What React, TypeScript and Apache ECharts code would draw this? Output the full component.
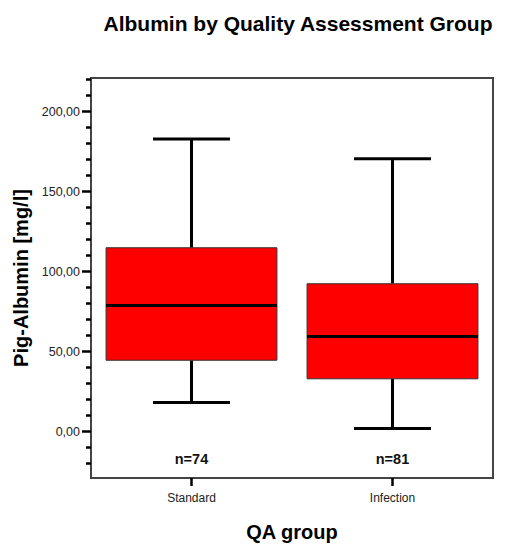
import React, { useEffect, useRef } from "react";
import * as echarts from "echarts";

const categories = ["Standard", "Infection"];
// [low whisker, Q1, median, Q3, high whisker]
const boxStats = [
  [18.2, 44.6, 78.8, 114.9, 182.9],
  [2.0, 33.0, 59.5, 92.4, 170.5],
];
const counts = [74, 81];
const majorTicks = [0, 50, 100, 150, 200];
const minorTicks = [-20, -10, 10, 20, 30, 40, 60, 70, 80, 90, 110, 120, 130, 140, 160, 170, 180, 190, 210, 220];
const yMin = -29;
const yMax = 221;
const nLabelValue = -17;

export default function App() {
  const ref = useRef<HTMLDivElement>(null);
  useEffect(() => {
    if (!ref.current) return;
    const chart = echarts.init(ref.current, null, { renderer: "svg" });
    const font = "Arial, 'Liberation Sans', Helvetica, sans-serif";
    const data = boxStats.map((s, i) => [i, ...s, counts[i]]);
    chart.setOption({
      animation: false,
      backgroundColor: "#ffffff",
      title: {
        text: "Albumin by Quality Assessment Group",
        left: 293,
        top: 8,
        textAlign: "center",
        textStyle: { fontFamily: font, fontWeight: "bold", fontSize: 21, color: "#000" },
      },
      grid: {
        left: 91,
        right: 14,
        top: 78,
        bottom: 66,
        show: true,
        borderColor: "#444",
        borderWidth: 2,
        backgroundColor: "transparent",
      },
      xAxis: {
        type: "category",
        data: categories,
        boundaryGap: true,
        name: "QA group",
        nameLocation: "middle",
        nameGap: 44,
        nameTextStyle: { fontFamily: font, fontWeight: "bold", fontSize: 20, color: "#000" },
        axisLine: { show: true, onZero: false, lineStyle: { color: "#444", width: 2 } },
        axisTick: { show: true, alignWithLabel: true, length: 8, lineStyle: { color: "#000", width: 2.5 } },
        axisLabel: { fontFamily: font, fontSize: 12, color: "#222", margin: 14 },
        splitLine: { show: false },
      },
      yAxis: [
        {
          type: "value",
          min: yMin,
          max: yMax,
          position: "left",
          name: "Pig-Albumin [mg/l]",
          nameLocation: "middle",
          nameGap: 54,
          nameTextStyle: { fontFamily: font, fontWeight: "bold", fontSize: 20, color: "#000" },
          axisLine: { show: true, onZero: false, lineStyle: { color: "#444", width: 2 } },
          axisTick: { show: true, length: 9, customValues: majorTicks, lineStyle: { color: "#000", width: 2.5 } },
          axisLabel: {
            fontFamily: font,
            fontSize: 12.5,
            color: "#222",
            margin: 11,
            customValues: majorTicks,
            formatter: (v: number) => v.toFixed(2).replace(".", ","),
          },
          splitLine: { show: false },
        },
        {
          type: "value",
          min: yMin,
          max: yMax,
          position: "left",
          axisLine: { show: false, onZero: false },
          axisTick: { show: true, length: 5, customValues: minorTicks, lineStyle: { color: "#000", width: 2.5 } },
          axisLabel: { show: false },
          splitLine: { show: false },
        },
      ],
      series: [
        {
          type: "custom",
          xAxisIndex: 0,
          yAxisIndex: 0,
          data,
          renderItem: (params: any, api: any) => {
            const x = api.value(0);
            const low = api.coord([x, api.value(1)]);
            const q1 = api.coord([x, api.value(2)]);
            const med = api.coord([x, api.value(3)]);
            const q3 = api.coord([x, api.value(4)]);
            const high = api.coord([x, api.value(5)]);
            const nPos = api.coord([x, nLabelValue]);
            const band = api.size([1, 0])[0];
            const bw = band * 0.85;
            const cw = band * 0.383;
            const cx = low[0];
            const black = { stroke: "#000", lineWidth: 3 };
            return {
              type: "group",
              children: [
                { type: "line", shape: { x1: cx, y1: q3[1], x2: cx, y2: high[1] }, style: black },
                { type: "line", shape: { x1: cx, y1: q1[1], x2: cx, y2: low[1] }, style: black },
                { type: "line", shape: { x1: cx - cw / 2, y1: high[1], x2: cx + cw / 2, y2: high[1] }, style: black },
                { type: "line", shape: { x1: cx - cw / 2, y1: low[1], x2: cx + cw / 2, y2: low[1] }, style: black },
                {
                  type: "rect",
                  shape: { x: cx - bw / 2, y: q3[1], width: bw, height: q1[1] - q3[1] },
                  style: { fill: "#ff0000", stroke: "#333", lineWidth: 1 },
                },
                { type: "line", shape: { x1: cx - bw / 2, y1: med[1], x2: cx + bw / 2, y2: med[1] }, style: black },
                {
                  type: "text",
                  x: cx,
                  y: nPos[1],
                  style: {
                    text: "n=" + api.value(6),
                    fontFamily: font,
                    fontWeight: "bold",
                    fontSize: 14.5,
                    fill: "#111",
                    align: "center",
                    verticalAlign: "middle",
                  },
                },
              ],
            };
          },
        },
      ],
    });
    return () => chart.dispose();
  }, []);
  return (
    <div
      ref={ref}
      style={{ position: "fixed", left: 0, top: 0, width: 507, height: 547, background: "#fff" }}
    />
  );
}
